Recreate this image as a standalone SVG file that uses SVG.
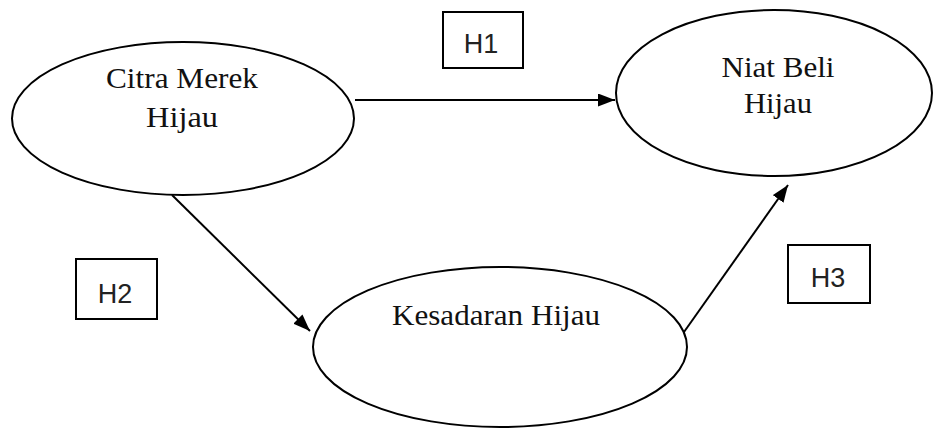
<svg xmlns="http://www.w3.org/2000/svg" width="933" height="430" viewBox="0 0 933 430">
  <defs>
    <marker id="arrow" viewBox="0 0 17 13" refX="17" refY="6.5" markerWidth="17" markerHeight="13" markerUnits="userSpaceOnUse" orient="auto">
      <path d="M0,0 L17,6.5 L0,13 Z" fill="#000"/>
    </marker>
    <style>
      .node { fill: #fff; stroke: #000; stroke-width: 2; }
      .label { font-family: "Liberation Serif", "Times New Roman", serif; font-size: 29px; fill: #111; text-anchor: middle; }
      .hbox { fill: #fff; stroke: #000; stroke-width: 2; }
      .hlabel { font-family: "Liberation Sans", Arial, sans-serif; font-size: 27px; fill: #222; text-anchor: middle; }
      .edge { fill: none; stroke: #000; stroke-width: 2; marker-end: url(#arrow); }
    </style>
  </defs>
  <rect width="933" height="430" fill="#fff"/>

  <g id="connectors">
    <line class="edge" x1="355" y1="100" x2="615" y2="100"/>
    <line class="edge" x1="172" y1="195" x2="310" y2="331"/>
    <line class="edge" x1="684" y1="332" x2="788" y2="185"/>
  </g>

  <g id="citra-merek-hijau">
    <ellipse class="node" cx="183" cy="118.5" rx="171" ry="76.5"/>
    <text class="label" x="182" y="88" textLength="152" lengthAdjust="spacingAndGlyphs">Citra Merek</text>
    <text class="label" x="182" y="127" textLength="72" lengthAdjust="spacingAndGlyphs">Hijau</text>
  </g>

  <g id="niat-beli-hijau">
    <ellipse class="node" cx="774" cy="93" rx="158" ry="83"/>
    <text class="label" x="778" y="77" textLength="113" lengthAdjust="spacingAndGlyphs">Niat Beli</text>
    <text class="label" x="778" y="113" textLength="68" lengthAdjust="spacingAndGlyphs">Hijau</text>
  </g>

  <g id="kesadaran-hijau">
    <ellipse class="node" cx="500" cy="347" rx="187" ry="80"/>
    <text class="label" x="496" y="325" textLength="208" lengthAdjust="spacingAndGlyphs">Kesadaran Hijau</text>
  </g>

  <g id="h1">
    <rect class="hbox" x="443" y="12" width="80" height="56"/>
    <text class="hlabel" x="481" y="53">H1</text>
  </g>

  <g id="h2">
    <rect class="hbox" x="76" y="259" width="81" height="60"/>
    <text class="hlabel" x="115" y="303">H2</text>
  </g>

  <g id="h3">
    <rect class="hbox" x="788" y="245" width="82" height="58"/>
    <text class="hlabel" x="828" y="287">H3</text>
  </g>
</svg>
